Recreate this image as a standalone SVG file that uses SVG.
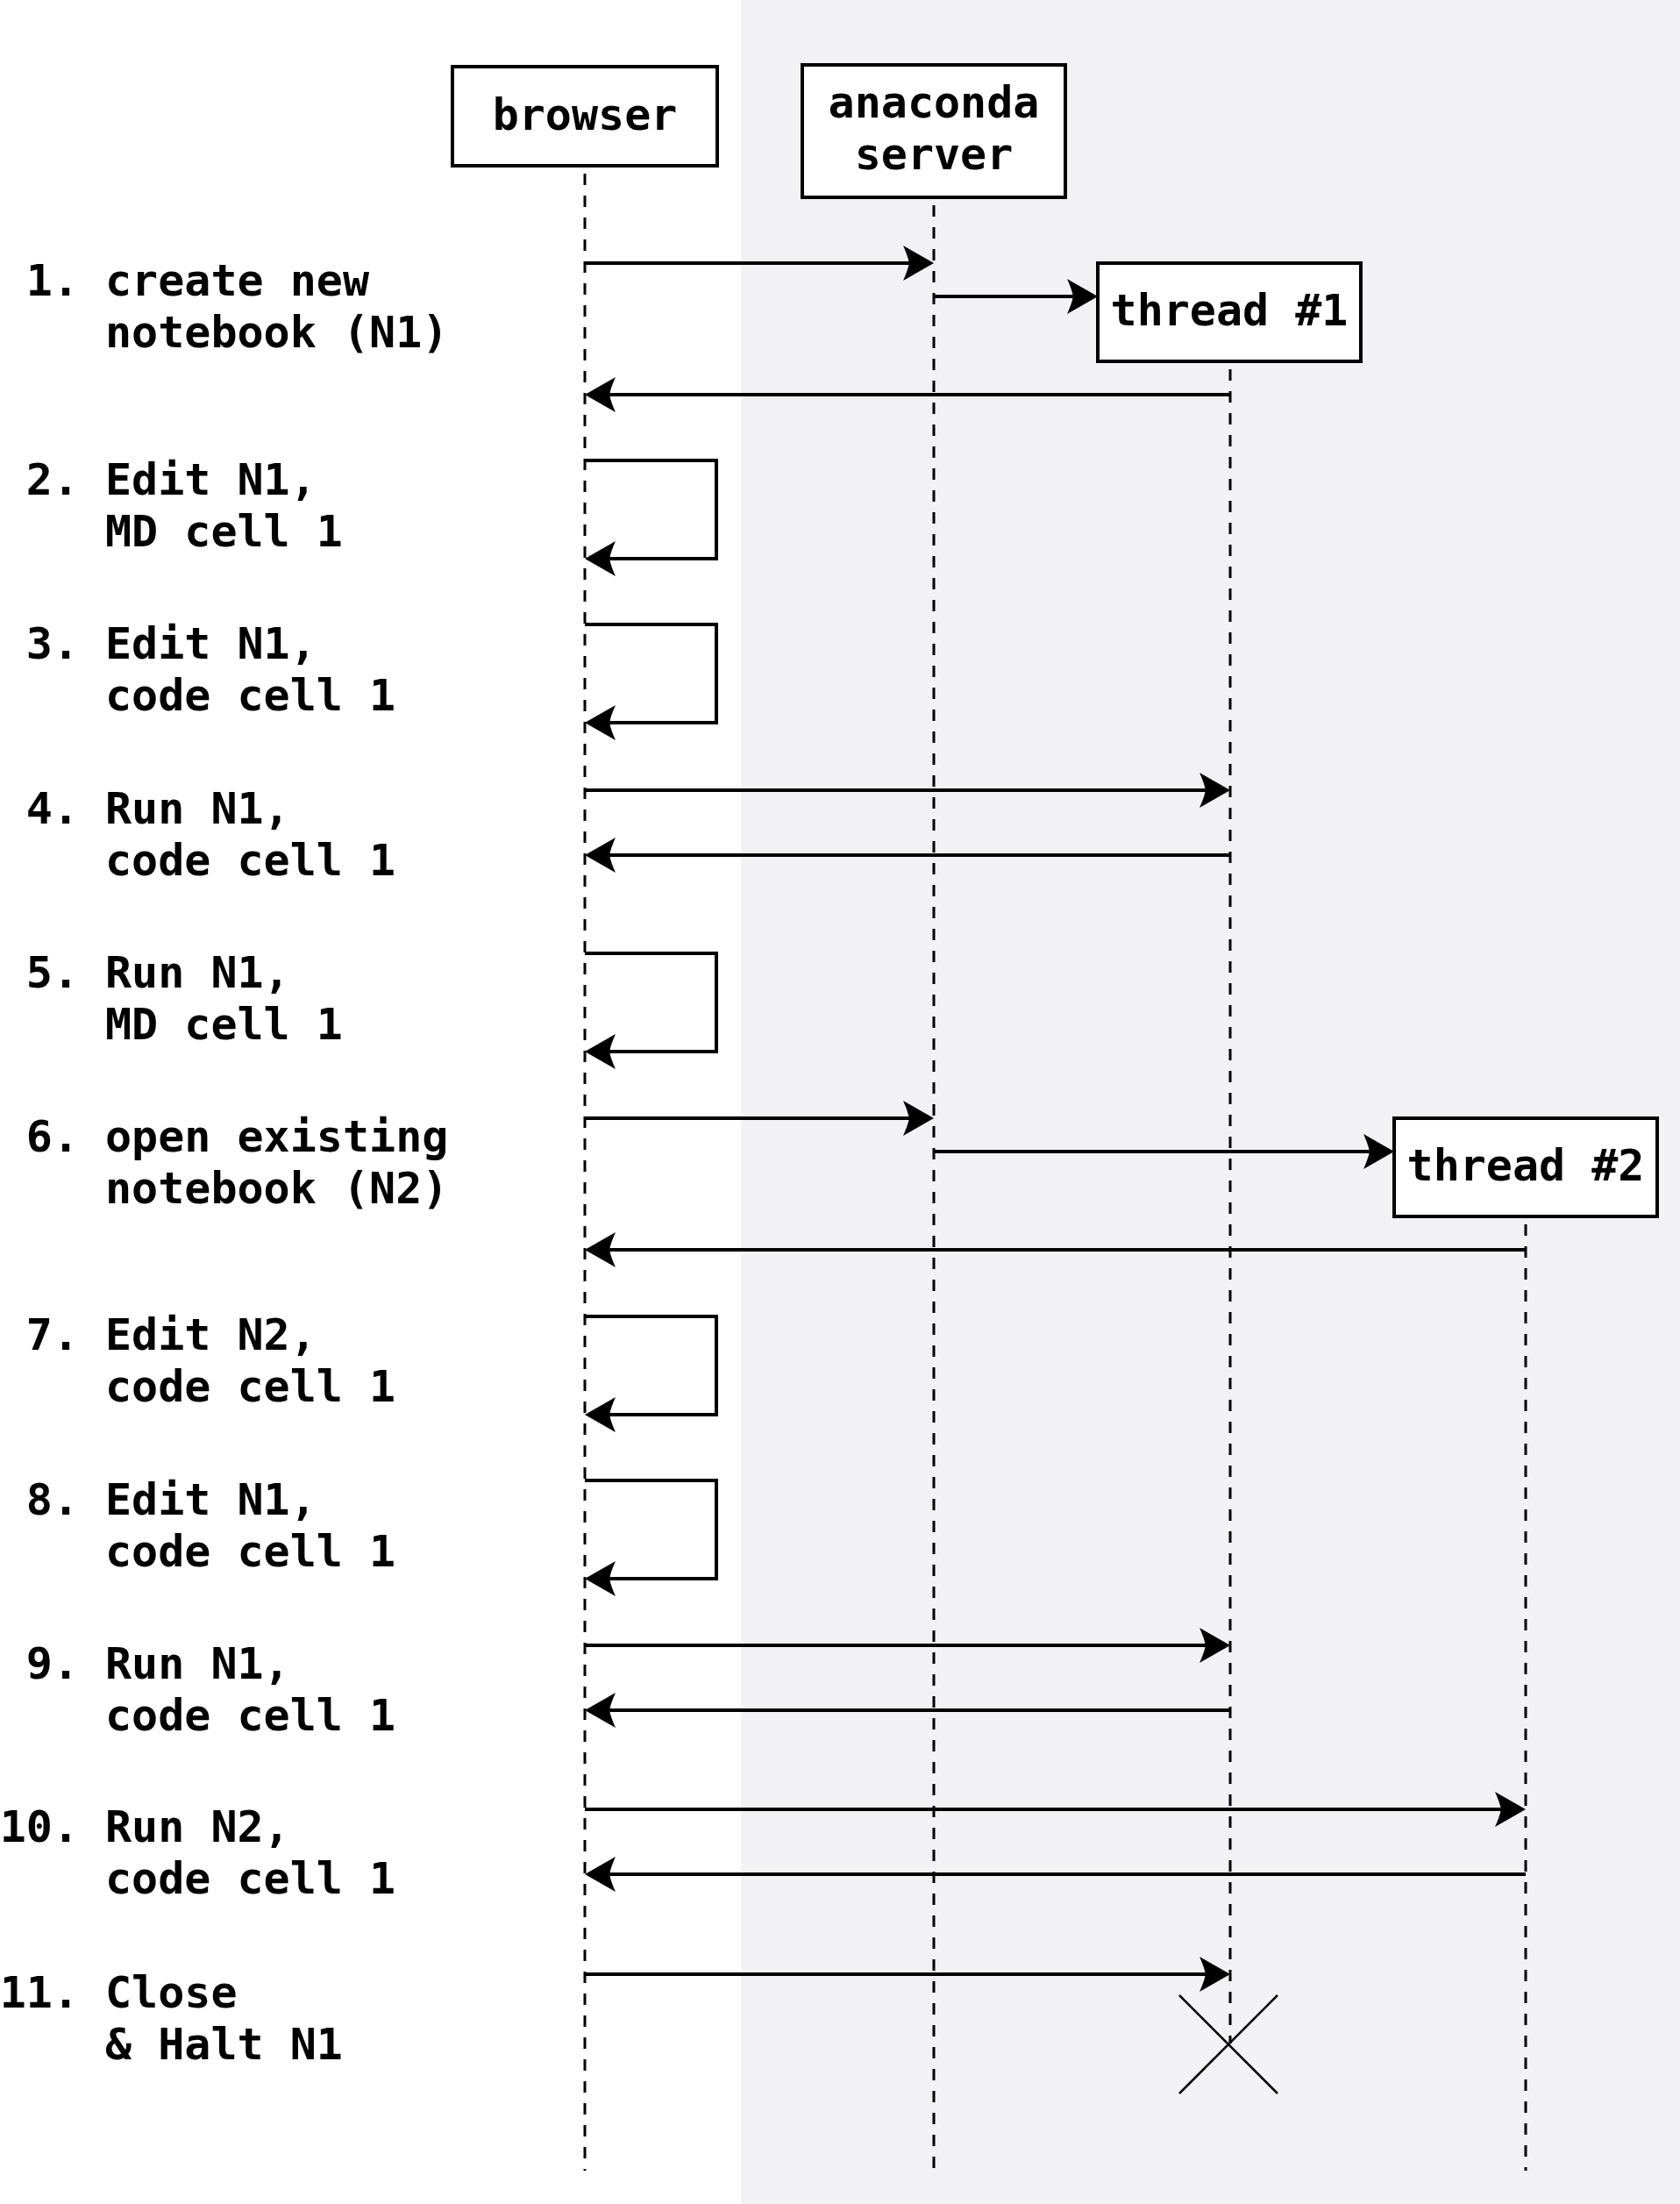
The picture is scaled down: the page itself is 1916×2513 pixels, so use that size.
<svg xmlns="http://www.w3.org/2000/svg" width="1916" height="2513" viewBox="0 0 1916 2513">
  <style>
    text { font-family: "DejaVu Sans Mono", "Liberation Mono", monospace; font-weight: bold; font-size: 50px; fill: #000; }
    .num { text-anchor: end; }
    .box { fill: #fff; stroke: #000; stroke-width: 4; }
    .boxlabel { text-anchor: middle; }
    .life { fill: none; stroke: #000; stroke-width: 3; stroke-dasharray: 13 12; }
    .msg { fill: none; stroke: #000; stroke-width: 4; }
    .kill { fill: none; stroke: #000; stroke-width: 2.5; }
  </style>
  <defs>
    <!-- notched arrowhead; the path end sits inside the solid part, the tip lands on the target -->
    <marker id="head" markerUnits="userSpaceOnUse" viewBox="-36 -22 40 44" markerWidth="40" markerHeight="44" refX="-22" refY="0" orient="auto" overflow="visible">
      <path d="M0,0 L-35,-20 Q-30,-9 -28,0 Q-30,9 -35,20 Z" fill="#000"/>
    </marker>
  </defs>

  <!-- backdrop: white client side, grey server side -->
  <rect x="0" y="0" width="1916" height="2513" fill="#ffffff"/>
  <rect x="845" y="0" width="1071" height="2513" fill="#f2f2f4"/>

  <!-- lifelines -->
  <g id="lifelines">
    <line class="life" x1="667" y1="198" x2="667" y2="2475"/>
    <line class="life" x1="1065" y1="234" x2="1065" y2="2475"/>
    <line class="life" x1="1403" y1="421" x2="1403" y2="2330"/>
    <line class="life" x1="1740" y1="1396" x2="1740" y2="2475"/>
  </g>

  <!-- participants -->
  <g id="browser">
    <rect class="box" x="516" y="76" width="302" height="113"/>
    <text class="boxlabel" x="667" y="148">browser</text>
  </g>
  <g id="anaconda-server">
    <rect class="box" x="915" y="74" width="300" height="151"/>
    <text class="boxlabel" x="1065" y="134">anaconda</text>
    <text class="boxlabel" x="1065" y="193">server</text>
  </g>
  <g id="thread-1">
    <rect class="box" x="1252" y="300" width="300" height="112"/>
    <text class="boxlabel" x="1402" y="371">thread #1</text>
  </g>
  <g id="thread-2">
    <rect class="box" x="1590" y="1275" width="300" height="112"/>
    <text class="boxlabel" x="1740" y="1346">thread #2</text>
  </g>

  <!-- end of thread #1 -->
  <g id="thread-1-halt">
    <line class="kill" x1="1345" y1="2275" x2="1457" y2="2387"/>
    <line class="kill" x1="1457" y1="2275" x2="1345" y2="2387"/>
  </g>

  <!-- messages -->
  <g id="connectors">
    <!-- 1. create new notebook -->
    <path class="msg" marker-end="url(#head)" d="M667,300 H1043"/>
    <path class="msg" marker-end="url(#head)" d="M1065,338 H1230"/>
    <path class="msg" marker-end="url(#head)" d="M1403,450 H689"/>
    <!-- 2. edit MD cell -->
    <path class="msg" marker-end="url(#head)" d="M667,525 H817 V637 H689"/>
    <!-- 3. edit code cell -->
    <path class="msg" marker-end="url(#head)" d="M667,712 H817 V824 H689"/>
    <!-- 4. run code cell -->
    <path class="msg" marker-end="url(#head)" d="M667,901 H1381"/>
    <path class="msg" marker-end="url(#head)" d="M1403,975 H689"/>
    <!-- 5. run MD cell -->
    <path class="msg" marker-end="url(#head)" d="M667,1087 H817 V1199 H689"/>
    <!-- 6. open existing notebook -->
    <path class="msg" marker-end="url(#head)" d="M667,1275 H1043"/>
    <path class="msg" marker-end="url(#head)" d="M1065,1313 H1568"/>
    <path class="msg" marker-end="url(#head)" d="M1740,1425 H689"/>
    <!-- 7. edit N2 -->
    <path class="msg" marker-end="url(#head)" d="M667,1501 H817 V1613 H689"/>
    <!-- 8. edit N1 -->
    <path class="msg" marker-end="url(#head)" d="M667,1688 H817 V1800 H689"/>
    <!-- 9. run N1 -->
    <path class="msg" marker-end="url(#head)" d="M667,1876 H1381"/>
    <path class="msg" marker-end="url(#head)" d="M1403,1950 H689"/>
    <!-- 10. run N2 -->
    <path class="msg" marker-end="url(#head)" d="M667,2063 H1718"/>
    <path class="msg" marker-end="url(#head)" d="M1740,2137 H689"/>
    <!-- 11. close & halt N1 -->
    <path class="msg" marker-end="url(#head)" d="M667,2251 H1381"/>
  </g>

  <!-- step list -->
  <g id="steps">
    <g id="step-1"><text class="num" x="90" y="337">1.</text><text x="120" y="337">create new</text><text x="120" y="396">notebook (N1)</text></g>
    <g id="step-2"><text class="num" x="90" y="564">2.</text><text x="120" y="564">Edit N1,</text><text x="120" y="623">MD cell 1</text></g>
    <g id="step-3"><text class="num" x="90" y="751">3.</text><text x="120" y="751">Edit N1,</text><text x="120" y="810">code cell 1</text></g>
    <g id="step-4"><text class="num" x="90" y="939">4.</text><text x="120" y="939">Run N1,</text><text x="120" y="998">code cell 1</text></g>
    <g id="step-5"><text class="num" x="90" y="1126">5.</text><text x="120" y="1126">Run N1,</text><text x="120" y="1185">MD cell 1</text></g>
    <g id="step-6"><text class="num" x="90" y="1313">6.</text><text x="120" y="1313">open existing</text><text x="120" y="1372">notebook (N2)</text></g>
    <g id="step-7"><text class="num" x="90" y="1539">7.</text><text x="120" y="1539">Edit N2,</text><text x="120" y="1598">code cell 1</text></g>
    <g id="step-8"><text class="num" x="90" y="1727">8.</text><text x="120" y="1727">Edit N1,</text><text x="120" y="1786">code cell 1</text></g>
    <g id="step-9"><text class="num" x="90" y="1914">9.</text><text x="120" y="1914">Run N1,</text><text x="120" y="1973">code cell 1</text></g>
    <g id="step-10"><text class="num" x="90" y="2100">10.</text><text x="120" y="2100">Run N2,</text><text x="120" y="2159">code cell 1</text></g>
    <g id="step-11"><text class="num" x="90" y="2289">11.</text><text x="120" y="2289">Close</text><text x="120" y="2348">&amp; Halt N1</text></g>
  </g>
</svg>
